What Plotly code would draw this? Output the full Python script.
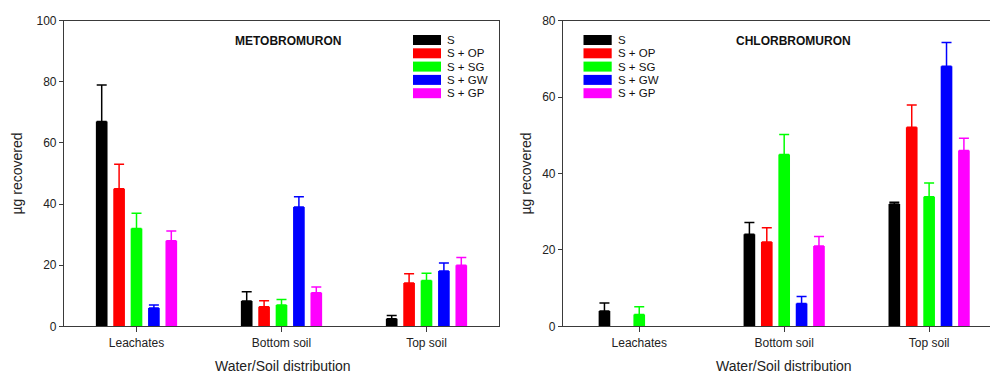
import plotly.graph_objects as go

categories = ["Leachates", "Bottom soil", "Top soil"]
series_names = ["S", "S + OP", "S + SG", "S + GW", "S + GP"]
series_colors = ["#000000", "#FF0000", "#00FF00", "#0000FF", "#FF00FF"]

# METOBROMURON (left panel)
meto_S = [67.0, 8.3, 2.5]
meto_OP = [45.0, 6.4, 14.2]
meto_SG = [32.0, 7.0, 15.0]
meto_GW = [6.0, 39.0, 18.1]
meto_GP = [28.0, 11.0, 20.0]
meto_S_err = [12.0, 3.0, 1.0]
meto_OP_err = [8.0, 2.0, 3.0]
meto_SG_err = [5.0, 1.8, 2.4]
meto_GW_err = [1.0, 3.4, 2.6]
meto_GP_err = [3.2, 1.9, 2.5]

# CHLORBROMURON (right panel)
chlor_S = [4.0, 24.1, 32.0]
chlor_OP = [None, 22.1, 52.1]
chlor_SG = [3.1, 45.0, 33.9]
chlor_GW = [None, 6.0, 68.1]
chlor_GP = [None, 21.0, 46.0]
chlor_S_err = [2.1, 3.1, 0.5]
chlor_OP_err = [0.0, 3.7, 5.8]
chlor_SG_err = [2.0, 5.2, 3.6]
chlor_GW_err = [0.0, 1.8, 6.2]
chlor_GP_err = [0.0, 2.5, 3.2]

meto_vals = [meto_S, meto_OP, meto_SG, meto_GW, meto_GP]
meto_errs = [meto_S_err, meto_OP_err, meto_SG_err, meto_GW_err, meto_GP_err]
chlor_vals = [chlor_S, chlor_OP, chlor_SG, chlor_GW, chlor_GP]
chlor_errs = [chlor_S_err, chlor_OP_err, chlor_SG_err, chlor_GW_err, chlor_GP_err]

meto_yticks = [0, 20, 40, 60, 80, 100]
chlor_yticks = [0, 20, 40, 60, 80]

W, H = 990, 374
FONT = "Liberation Sans, Arial, sans-serif"
AXC = "#3a3a3a"


def px(x):
    return x / W


def py(y):
    return 1 - y / H


fig = go.Figure()

for i in range(5):
    fig.add_trace(go.Bar(
        x=list(range(3)), y=meto_vals[i], name=series_names[i],
        marker=dict(color=series_colors[i], line=dict(width=0)),
        error_y=dict(type="data", array=meto_errs[i], symmetric=False,
                     arrayminus=[0, 0, 0], color=series_colors[i],
                     thickness=1.5, width=5),
        xaxis="x", yaxis="y", showlegend=False))
for i in range(5):
    errs = [e if v is not None else None for v, e in zip(chlor_vals[i], chlor_errs[i])]
    fig.add_trace(go.Bar(
        x=list(range(3)), y=chlor_vals[i], name=series_names[i],
        marker=dict(color=series_colors[i], line=dict(width=0)),
        error_y=dict(type="data", array=errs, symmetric=False,
                     arrayminus=[0, 0, 0], color=series_colors[i],
                     thickness=1.5, width=5),
        xaxis="x2", yaxis="y2", showlegend=False))

ydom = [py(326.3), py(20.7)]
common_x = dict(tickmode="array", tickvals=list(range(3)), ticktext=categories,
                ticks="outside", ticklen=5, tickwidth=1, tickcolor=AXC,
                showline=True, linecolor=AXC, linewidth=1.2, mirror=True,
                showgrid=False, zeroline=False,
                tickfont=dict(family=FONT, size=12, color="#222"))
common_y = dict(ticks="outside", ticklen=4, tickwidth=1, tickcolor=AXC,
                showline=True, linecolor=AXC, linewidth=1.2,
                showgrid=False, zeroline=False,
                tickfont=dict(family=FONT, size=12, color="#222"))

fig.update_layout(
    width=W, height=H, margin=dict(l=0, r=0, t=0, b=0, autoexpand=False),
    paper_bgcolor="white", plot_bgcolor="white",
    barmode="group", bargap=0.4, bargroupgap=0.33,
    xaxis=dict(domain=[px(64), px(499)], range=[-0.5, 2.5], anchor="y", **common_x),
    yaxis=dict(domain=ydom, range=[0, 100], anchor="x", tickvals=meto_yticks,
               mirror=True, **common_y),
    xaxis2=dict(domain=[px(563), 1.0], range=[-0.526, 2.42], anchor="y2", **common_x),
    yaxis2=dict(domain=ydom, range=[0, 80], anchor="x2", tickvals=chlor_yticks,
                mirror=False, **common_y),
    showlegend=False,
)

annotations = []
shapes = []

# Panel titles
annotations.append(dict(text="<b>METOBROMURON</b>", x=px(288), y=py(41), xref="paper", yref="paper",
                        showarrow=False, font=dict(family=FONT, size=12, color="#111"),
                        xanchor="center", yanchor="middle"))
annotations.append(dict(text="<b>CHLORBROMURON</b>", x=px(793.5), y=py(41), xref="paper", yref="paper",
                        showarrow=False, font=dict(family=FONT, size=12, color="#111"),
                        xanchor="center", yanchor="middle"))

# Axis titles
for xc in (283, 784):
    annotations.append(dict(text="Water/Soil distribution", x=px(xc), y=py(365.5), xref="paper", yref="paper",
                            showarrow=False, font=dict(family=FONT, size=14, color="#222"),
                            xanchor="center", yanchor="middle"))
for xc in (16, 525):
    annotations.append(dict(text="µg recovered", x=px(xc), y=py(173.5), xref="paper", yref="paper",
                            showarrow=False, textangle=-90, font=dict(family=FONT, size=14, color="#222"),
                            xanchor="center", yanchor="middle"))

# Legends
for (sx0, sx1, tx) in ((413, 441, 445), (583.5, 611.7, 615.5)):
    for i, (nm, col) in enumerate(zip(series_names, series_colors)):
        yc = 40 + i * 13.3
        shapes.append(dict(type="rect", xref="paper", yref="paper",
                           x0=px(sx0), x1=px(sx1), y0=py(yc + 5), y1=py(yc - 5),
                           fillcolor=col, line=dict(width=0)))
        annotations.append(dict(text=nm, x=px(tx), y=py(yc), xref="paper", yref="paper",
                                showarrow=False, font=dict(family=FONT, size=11.5, color="#111"),
                                xanchor="left", yanchor="middle"))

fig.update_layout(annotations=annotations, shapes=shapes)

fig.write_html("out.html")
